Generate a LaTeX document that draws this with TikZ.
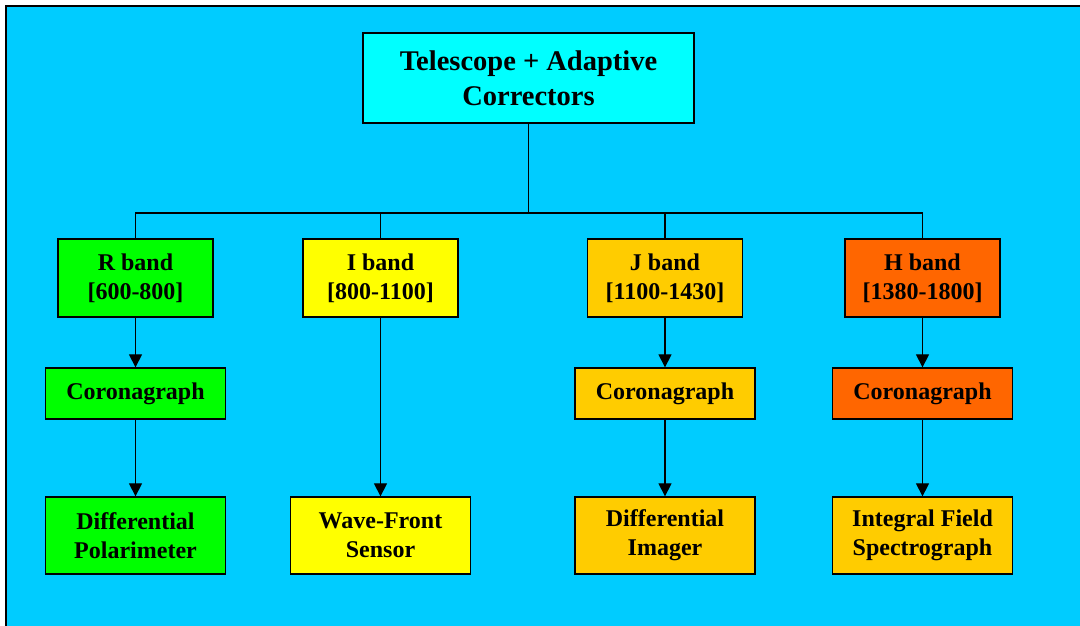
\documentclass[tikz,border=0pt]{standalone}
\usepackage{fontspec}
\setmainfont{Liberation Serif}
\usetikzlibrary{arrows.meta}
\definecolor{skyback}{HTML}{00CCFF}
\definecolor{cyanbox}{HTML}{00FFFF}
\definecolor{greenbox}{HTML}{00FF00}
\definecolor{yellowbox}{HTML}{FFFF00}
\definecolor{goldbox}{HTML}{FFCC00}
\definecolor{orangebox}{HTML}{FF6600}
\begin{document}
\begin{tikzpicture}[x=1pt,y=-1pt,
  box/.style={draw=black, line width=1.3pt, inner sep=0pt, align=center,
    font=\bfseries\fontsize{24}{29}\selectfont, text=black},
  bandbox/.style={box, minimum width=155pt, minimum height=78pt},
  corbox/.style={box, minimum width=180pt, minimum height=51pt},
  endbox/.style={box, minimum width=180pt, minimum height=77pt},
  link/.style={draw=black, line width=1.2pt},
  flow/.style={link, -{Triangle[length=13pt,width=13pt]}}]
\useasboundingbox (0,0) rectangle (1080,625);
\fill[white] (0,0) rectangle (1080,625);
\draw[line width=2pt, fill=skyback] (6,6) rectangle (1090,640);

% root
\node[box, fill=cyanbox, minimum width=331pt, minimum height=90pt,
  font=\bfseries\fontsize{28.5}{35}\selectfont] (top) at (528.5,78)
  {Telescope + Adaptive\\Correctors};

% spectral bands
\node[bandbox, fill=greenbox]  (rband) at (135.5,278) {R band\\{}[600-800]};
\node[bandbox, fill=yellowbox] (iband) at (380.5,278) {I band\\{}[800-1100]};
\node[bandbox, fill=goldbox]   (jband) at (665,278)   {J band\\{}[1100-1430]};
\node[bandbox, fill=orangebox] (hband) at (922.5,278) {H band\\{}[1380-1800]};

% coronagraphs
\node[corbox, fill=greenbox]  (rcor) at (135.5,393.5) {Coronagraph};
\node[corbox, fill=goldbox]   (jcor) at (665,393.5)   {Coronagraph};
\node[corbox, fill=orangebox] (hcor) at (922.5,393.5) {Coronagraph};

% instruments
\node[endbox, fill=greenbox]  (rdiff) at (135.5,535.5) {Differential\\Polarimeter};
\node[endbox, fill=yellowbox] (wfs)   at (380.5,535.5) {Wave-Front\\Sensor};
\node[endbox, fill=goldbox]   (jdiff) at (665,535.5)   {Differential\\Imager};
\node[endbox, fill=goldbox]   (ifs)   at (922.5,535.5) {Integral Field\\Spectrograph};

% distribution bus
\coordinate (bus) at (528.5,213);
\draw[link] (top.south) -- (bus);
\foreach \b in {rband,iband,jband,hband}
  \draw[link] (bus) -| (\b.north);

% optical chains
\draw[flow] (rband.south) -- (rcor.north);
\draw[flow] (rcor.south) -- (rdiff.north);
\draw[flow] (iband.south) -- (wfs.north);
\draw[flow] (jband.south) -- (jcor.north);
\draw[flow] (jcor.south) -- (jdiff.north);
\draw[flow] (hband.south) -- (hcor.north);
\draw[flow] (hcor.south) -- (ifs.north);
\end{tikzpicture}
\end{document}
